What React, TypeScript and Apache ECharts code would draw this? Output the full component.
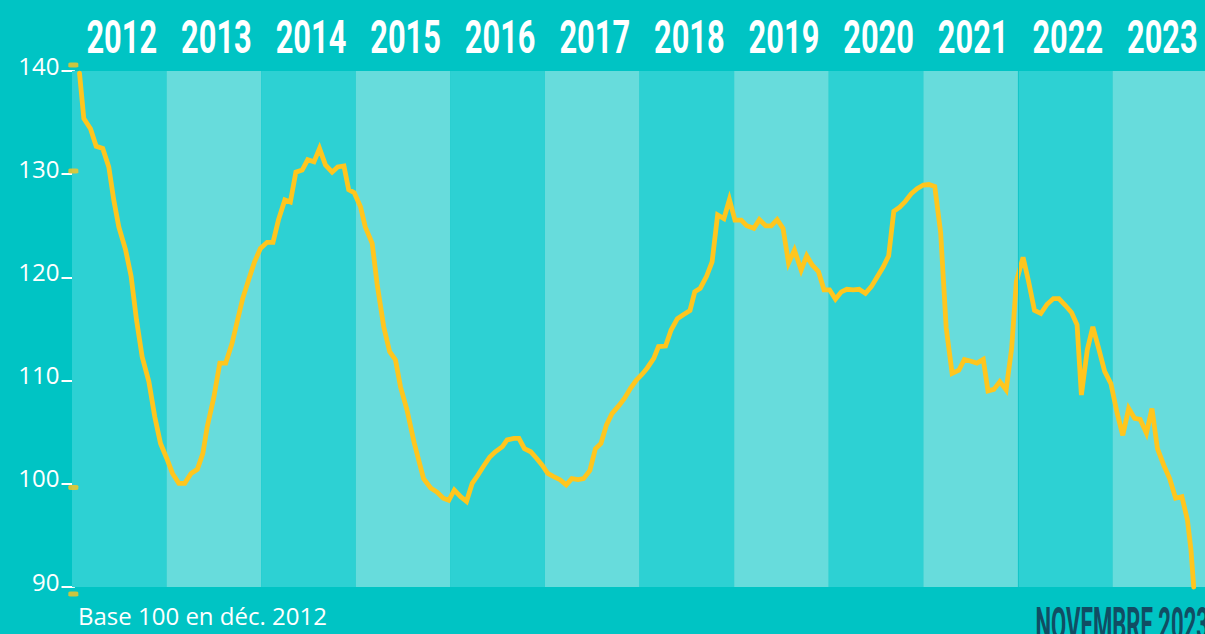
import React, { useEffect, useRef } from "react";
import * as echarts from "echarts";

// Months elapsed since Jan 2012 (x position of each reading) and index values (base 100 = Dec 2012)
const months = [
  0.95, 1.5, 2.35, 3.07, 3.9, 4.67, 5.3, 5.94, 6.79, 7.5, 8.18, 8.9, 9.75, 10.5, 11.23, 12.0,
  12.75, 13.55, 14.3, 15.1, 15.9, 16.6, 17.15, 18.0, 18.75, 19.5, 20.3, 20.95, 21.67, 22.4,
  23.15, 23.9, 24.75, 25.5, 26.2, 27.0, 27.7, 28.4, 29.2, 29.9, 30.7, 31.4, 32.15, 33.0, 33.7,
  34.5, 35.1, 35.8, 36.6, 37.2, 38.08, 38.7, 39.55, 40.3, 41.04, 41.67, 42.5, 43.4, 44.6, 45.5,
  46.3, 47.1, 47.8, 48.5, 49.3, 50.05, 50.77, 51.5, 52.2, 53.0, 53.7, 54.6, 55.2, 56.05, 56.7,
  57.4, 58.2, 58.9, 59.65, 60.36, 61.1, 61.9, 62.7, 63.4, 64.2, 64.9, 65.7, 66.4, 67.1, 67.8,
  68.5, 69.4, 70.1, 70.85, 71.6, 72.3, 72.95, 73.8, 74.4, 75.3, 76.0, 76.8, 77.5, 78.4, 79.0,
  79.7, 80.5, 81.2, 81.9, 82.7, 83.4, 84.1, 84.9, 85.6, 86.5, 87.2, 88.0, 88.7, 89.45, 90.2,
  90.9, 91.65, 92.5, 93.2, 93.9, 94.7, 95.4, 96.1, 96.85, 97.6, 98.3, 99.1, 99.85, 100.65,
  101.4, 102.1, 102.9, 103.6, 104.25, 105.0, 105.7, 106.45, 107.2, 108.0, 108.7, 109.45,
  110.2, 110.9, 111.65, 112.5, 113.2, 113.95, 114.8, 115.6, 116.2, 116.95, 117.7, 118.5,
  119.2, 119.8, 120.65, 121.35, 122.1, 122.9, 123.7, 124.5, 125.2, 126.0, 126.8, 127.5,
  128.05, 128.8, 129.5, 130.25, 131.0, 131.8, 132.6, 133.3, 134.05, 134.8, 135.5, 136.3,
  137.0, 137.7, 138.5, 139.25, 140.0, 140.8, 141.5, 141.95, 142.3,
];
const values = [
  139.8, 135.4, 134.4, 132.7, 132.5, 130.7, 127.5, 124.9, 122.7, 120.1, 115.9, 112.3, 109.9,
  106.5, 103.9, 102.5, 101.0, 100.05, 100.05, 101.0, 101.4, 102.95, 105.5, 108.4, 111.7,
  111.7, 113.6, 115.7, 118.0, 119.75, 121.5, 122.8, 123.4, 123.4, 125.6, 127.5, 127.3, 130.2,
  130.4, 131.4, 131.2, 132.5, 130.9, 130.2, 130.7, 130.8, 128.5, 128.2, 126.85, 124.9, 123.3,
  119.4, 115.2, 112.8, 112.0, 109.4, 107.15, 104.0, 100.5, 99.6, 99.2, 98.6, 98.4, 99.4,
  98.75, 98.3, 100.05, 100.85, 101.7, 102.6, 103.1, 103.6, 104.25, 104.4, 104.4, 103.4,
  103.1, 102.5, 101.8, 101.0, 100.7, 100.4, 99.9, 100.5, 100.4, 100.5, 101.3, 103.4, 103.9,
  105.7, 106.8, 107.6, 108.3, 109.25, 110.05, 110.6, 111.2, 112.15, 113.3, 113.35, 114.9,
  116.0, 116.35, 116.8, 118.6, 118.95, 120.1, 121.5, 126.05, 125.7, 127.55, 125.55, 125.55,
  125.0, 124.75, 125.6, 125.0, 125.0, 125.6, 124.75, 121.4, 122.65, 120.7, 122.1, 121.2,
  120.55, 118.8, 118.8, 117.9, 118.6, 118.85, 118.8, 118.85, 118.45, 119.1, 120.0, 121.0,
  122.1, 126.4, 126.8, 127.35, 128.1, 128.6, 128.95, 129.0, 128.8, 124.3, 115.1, 110.7,
  111.0, 112.05, 111.9, 111.7, 112.05, 109.0, 109.15, 109.9, 109.1, 113.1, 119.6, 121.95,
  119.6, 116.8, 116.5, 117.4, 117.95, 117.95, 117.3, 116.6, 115.4, 108.6, 113.0, 115.2,
  113.1, 110.9, 109.7, 106.8, 104.7, 107.3, 106.35, 106.25, 104.9, 107.3, 103.4, 101.8,
  100.5, 98.6, 98.75, 96.5, 93.6, 90.0,
];

const years = ["2012", "2013", "2014", "2015", "2016", "2017", "2018", "2019", "2020", "2021", "2022", "2023"];
const yMin = 90;
const yMax = 140;
const yStep = 10;
// decorative yellow dashes beside the value axis
const tickDotValues = [140.58, 130.3, 99.64, 89.32];

const BG = "#00C4C4";
const BAND_DARK = "#2DD1D3";
const BAND_LIGHT = "#67DCDC";
const LINE = "#FFC61E";
const NAVY = "#114D63";

export default function App() {
  const ref = useRef<HTMLDivElement>(null);

  useEffect(() => {
    if (!ref.current) return;
    const chart = echarts.init(ref.current, undefined, { renderer: "svg" });
    const lineData = months.map((m, i) => [m, values[i]]);
    const bands = years.map((y, k) => [
      { xAxis: k * 12, itemStyle: { color: k % 2 === 0 ? BAND_DARK : BAND_LIGHT } },
      { xAxis: k * 12 + 12 },
    ]);
    chart.setOption({
      animation: false,
      backgroundColor: BG,
      grid: { left: 72, right: 0, top: 71, bottom: 47, containLabel: false },
      xAxis: {
        type: "value",
        min: 0,
        max: 143.73,
        show: false,
      },
      yAxis: {
        type: "value",
        min: yMin,
        max: yMax,
        interval: yStep,
        offset: -1.5,
        axisLine: { show: true, lineStyle: { color: "#ffffff", width: 2 } },
        axisTick: { show: true, length: 12, lineStyle: { color: "#ffffff", width: 2 } },
        splitLine: { show: false },
        axisLabel: {
          color: "#ffffff",
          fontFamily: "'Open Sans', sans-serif",
          fontSize: 24,
          margin: 14,
          verticalAlign: "bottom",
          lineHeight: 12,
        },
      },
      series: [
        {
          type: "line",
          data: lineData,
          showSymbol: false,
          symbol: "none",
          clip: false,
          z: 3,
          lineStyle: { color: LINE, width: 4.8, join: "miter", miterLimit: 10, cap: "round" },
          markArea: { silent: true, data: bands },
          markLine: {
            silent: true,
            symbol: "none",
            label: { show: false },
            lineStyle: { color: "#14C6C8", width: 1, type: "solid" },
            data: [{ xAxis: 120 }],
          },
        },
        {
          type: "scatter",
          data: tickDotValues.map((v) => [0.17, v]),
          symbol: "roundRect",
          symbolSize: [10, 5],
          itemStyle: { color: LINE },
          clip: false,
          z: 4,
          silent: true,
        },
        {
          type: "custom",
          data: years.map((y, k) => [k * 12 + 6, k]),
          clip: false,
          silent: true,
          renderItem: (params: any, api: any) => {
            const p = api.coord([api.value(0), yMax]);
            return {
              type: "text",
              x: p[0] + 2.5,
              y: 37.5,
              scaleX: 0.67,
              style: {
                text: years[api.value(1)],
                fill: "#ffffff",
                font: "bold 46px Roboto, sans-serif",
                align: "center",
                verticalAlign: "middle",
              },
            };
          },
        },
      ],
      graphic: [
        {
          type: "text",
          left: 78,
          top: 603,
          silent: true,
          style: {
            text: "Base 100 en déc. 2012",
            fill: "#ffffff",
            font: "24px 'Open Sans', sans-serif",
          },
        },
        {
          type: "text",
          x: 1209,
          y: 625,
          scaleX: 0.48,
          silent: true,
          style: {
            text: "NOVEMBRE 2023",
            fill: NAVY,
            font: "bold 46px Roboto, sans-serif",
            align: "right",
            verticalAlign: "middle",
          },
        },
      ],
    });
    return () => chart.dispose();
  }, []);

  return (
    <div
      ref={ref}
      style={{ position: "fixed", left: 0, top: 0, width: 1205, height: 634 }}
    />
  );
}
